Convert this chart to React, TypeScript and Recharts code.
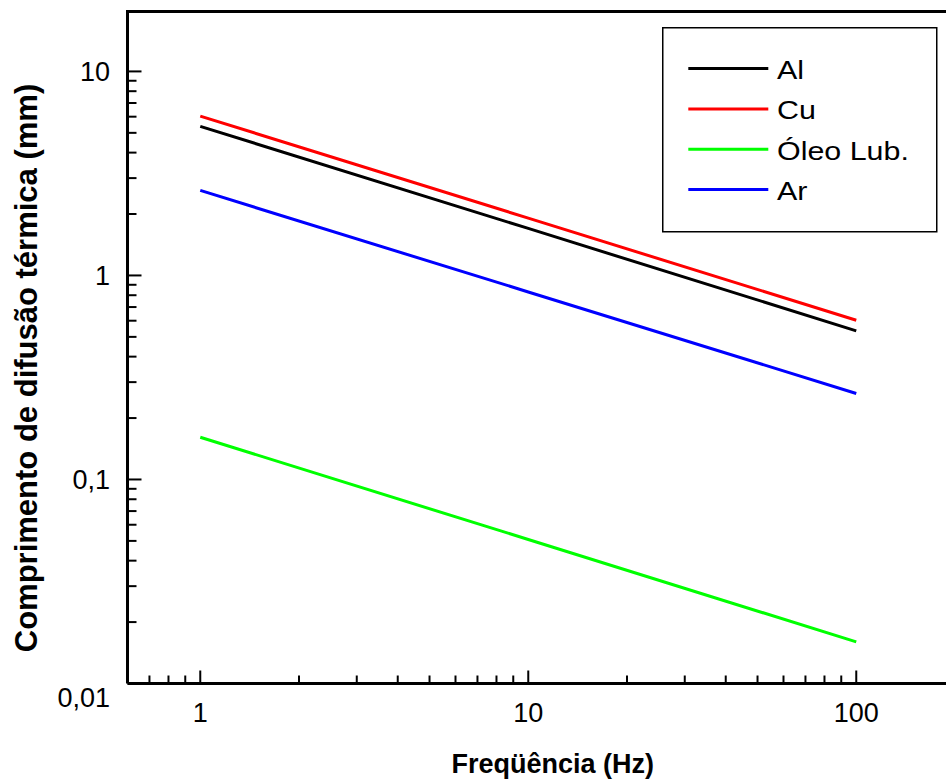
import React from 'react';
import { LineChart, Line, XAxis, YAxis, Legend } from 'recharts';

// Frequencies (Hz) and thermal diffusion lengths (mm)
const frequencies = [1, 10, 100];
const aluminio = [5.38, 1.7, 0.535];
const cobre = [6.04, 1.91, 0.603];
const oleoLub = [0.161, 0.0508, 0.016];
const arValues = [2.61, 0.83, 0.264];

const seriesKeys = ['al', 'cu', 'oleo', 'ar'];
const seriesNames = ['Al', 'Cu', 'Óleo Lub.', 'Ar'];
const seriesColors = ['#000000', '#ff0000', '#00ff00', '#0000ff'];

const xTicks = [0.7, 0.8, 0.9, 1, 2, 3, 4, 5, 6, 7, 8, 9, 10, 20, 30, 40, 50, 60, 70, 80, 90, 100];
const yTicks = [
  0.01, 0.02, 0.03, 0.04, 0.05, 0.06, 0.07, 0.08, 0.09,
  0.1, 0.2, 0.3, 0.4, 0.5, 0.6, 0.7, 0.8, 0.9,
  1, 2, 3, 4, 5, 6, 7, 8, 9, 10,
];

const xDomain = [0.6, 200];
const yDomain = [0.01, 20];

const data = frequencies.map((f, i) => ({
  f,
  al: aluminio[i],
  cu: cobre[i],
  oleo: oleoLub[i],
  ar: arValues[i],
}));

const FONT = "'Liberation Sans', Arial, sans-serif";

const isMajor = (v: number) => Math.abs(Math.log10(v) - Math.round(Math.log10(v))) < 1e-9;
const formatTick = (v: number) => (v < 1 ? String(v).replace('.', ',') : String(v));

const XTick = (props: any) => {
  const { x, y, payload } = props;
  const v = payload.value;
  const major = isMajor(v);
  return (
    <g>
      <line x1={x} x2={x} y1={y} y2={y - (major ? 13 : 8)} stroke="#000" strokeWidth={2} />
      {major && (
        <text x={x} y={y + 38.5} textAnchor="middle" fontSize={27} fill="#000" fontFamily={FONT}>
          {formatTick(v)}
        </text>
      )}
    </g>
  );
};

const YTick = (props: any) => {
  const { x, y, payload, index } = props;
  const v = payload.value;
  const major = isMajor(v);
  const extra = index === 0 ? 14 : 0;
  return (
    <g>
      <line x1={x} x2={x + (major ? 14 : 9)} y1={y} y2={y} stroke="#000" strokeWidth={2} />
      {major && (
        <text x={x - 17.5} y={y + 9.8 + extra} textAnchor="end" fontSize={27} fill="#000" fontFamily={FONT}>
          {formatTick(v)}
        </text>
      )}
    </g>
  );
};

const YTitle = (props: any) => {
  const vb = props.viewBox || { x: 0, y: 0 };
  const cx = vb.x + 29;
  const cy = vb.y + 358;
  return (
    <text
      x={cx}
      y={cy}
      transform={`rotate(-90 ${cx} ${cy})`}
      textAnchor="middle"
      fontSize={31}
      fontWeight="bold"
      fill="#000"
      fontFamily={FONT}
    >
      Comprimento de difusão térmica (mm)
    </text>
  );
};

const XTitle = (props: any) => {
  const vb = props.viewBox || { x: 0, y: 0 };
  return (
    <text
      x={vb.x + 425.2}
      y={vb.y + 89.8}
      textAnchor="middle"
      fontSize={27}
      fontWeight="bold"
      fill="#000"
      fontFamily={FONT}
    >
      Freqüência (Hz)
    </text>
  );
};

const LegendBox = () => (
  <svg width={276} height={206} style={{ display: 'block' }}>
    <rect x={0.75} y={0.75} width={274} height={204} fill="#fff" stroke="#000" strokeWidth={1.5} />
    {seriesNames.map((name, i) => {
      const cy = 41.6 + i * 40.3;
      return (
        <g key={name}>
          <line x1={26.3} x2={106.3} y1={cy} y2={cy} stroke={seriesColors[i]} strokeWidth={3} />
          <text
            x={0}
            y={0}
            transform={`translate(115 ${cy + 10.5}) scale(1.17 1)`}
            fontSize={26}
            fill="#000"
            fontFamily={FONT}
          >
            {name}
          </text>
        </g>
      );
    })}
  </svg>
);

const CHART_W = 960;
const CHART_H = 775;
const MARGIN_TOP = 2;
const Y_AXIS_W = 119.5;

export default function App() {
  return (
    <div style={{ position: 'absolute', left: 8, top: 8, width: 938, height: 775, overflow: 'hidden', background: '#fff' }}>
      <LineChart width={CHART_W} height={CHART_H} data={data} margin={{ top: MARGIN_TOP, right: 13, bottom: 0, left: 0 }}>
        <XAxis
          xAxisId="b"
          dataKey="f"
          type="number"
          scale="log"
          domain={xDomain}
          allowDataOverflow
          ticks={xTicks}
          interval={0}
          tickSize={0}
          tickMargin={0}
          tickLine={false}
          tick={<XTick />}
          axisLine={{ stroke: '#000', strokeWidth: 3 }}
          height={99.5}
          label={<XTitle />}
        />
        <YAxis
          yAxisId="l"
          type="number"
          scale="log"
          domain={yDomain}
          allowDataOverflow
          ticks={yTicks}
          interval={0}
          tickSize={0}
          tickMargin={0}
          tickLine={false}
          tick={<YTick />}
          axisLine={{ stroke: '#000', strokeWidth: 3 }}
          width={Y_AXIS_W}
          label={<YTitle />}
        />
        <Legend
          layout="vertical"
          align="center"
          verticalAlign="middle"
          content={<LegendBox />}
          wrapperStyle={{ position: 'absolute', left: 653.7, top: 18.7, width: 276, height: 206 }}
        />
        {seriesKeys.map((k, i) => (
          <Line
            key={k}
            xAxisId="b"
            yAxisId="l"
            dataKey={k}
            name={seriesNames[i]}
            stroke={seriesColors[i]}
            strokeWidth={3}
            dot={false}
            type="linear"
            isAnimationActive={false}
          />
        ))}
      </LineChart>
      <div
        style={{
          position: 'absolute',
          left: Y_AXIS_W - 1.5,
          top: MARGIN_TOP - 0.5,
          right: 0,
          height: 3,
          background: '#000',
        }}
      />
    </div>
  );
}
